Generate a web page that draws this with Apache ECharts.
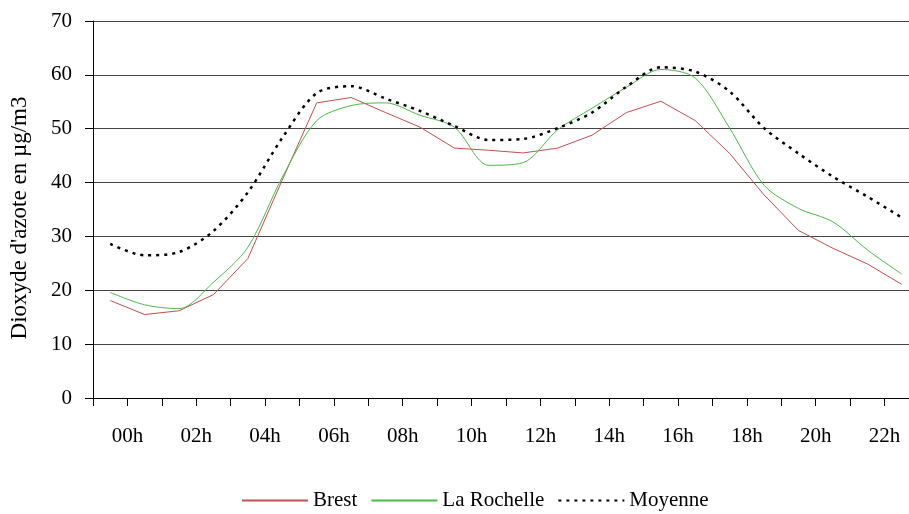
<!DOCTYPE html>
<html>
<head>
<meta charset="utf-8">
<script src="https://cdn.jsdelivr.net/npm/echarts@6/dist/echarts.min.js"></script>
<style>html,body{margin:0;padding:0;background:#fff}#c{width:909px;height:514px}</style>
</head>
<body>
<div id="c"></div>
<script>
var tickLabels = ['00h','02h','04h','06h','08h','10h','12h','14h','16h','18h','20h','22h'];
var hours = [0.5,1.5,2.5,3.5,4.5,5.5,6.5,7.5,8.5,9.5,10.5,11.5,12.5,13.5,14.5,15.5,16.5,17.5,18.5,19.5,20.5,21.5,22.5,23.5];
var brest = [18.1,15.5,16.2,19.2,25.9,40.5,54.8,55.8,53.0,50.3,46.4,46.0,45.5,46.4,48.8,53.0,55.1,51.5,45.4,37.7,31.1,27.8,24.9,21.1];
var laRochelle = [19.6,17.3,16.6,21.5,28.0,41.0,51.5,54.3,54.8,52.5,50.3,43.2,43.7,49.8,53.8,57.7,61.0,59.4,50.1,39.5,35.2,32.7,27.5,23.0];
var moyenne = [28.6,26.5,27.1,31.0,38.2,48.3,56.6,57.9,55.6,53.3,50.5,47.9,48.1,50.1,53.0,57.8,61.4,60.6,56.9,50.1,45.4,41.1,37.4,33.5];

function pairs(vals){ return vals.map(function(v,i){ return [hours[i], v]; }); }
var FONT = "'Liberation Serif','Times New Roman',serif";
var chart = echarts.init(document.getElementById('c'));
chart.setOption({
  animation: false,
  backgroundColor: '#fff',
  textStyle: { fontFamily: FONT, color: '#000' },
  grid: { left: 91, top: 21, right: 0, height: 377 },
  legend: {
    left: 241, top: 490, padding: 0,
    itemWidth: 66, itemHeight: 10, itemGap: 13,
    itemStyle: { opacity: 0 },
    textStyle: { fontFamily: FONT, fontSize: 21, color: '#000' },
    data: ['Brest','La Rochelle','Moyenne']
  },
  xAxis: {
    type: 'value', min: 0, max: 23.71, interval: 1,
    axisLine: { lineStyle: { color: '#000', width: 1 } },
    axisTick: { show: true, length: 8, lineStyle: { color: '#000' } },
    splitLine: { show: false },
    axisLabel: {
      margin: 28, fontFamily: FONT, fontSize: 21, color: '#000',
      showMaxLabel: false,
      formatter: function(v){ return (Math.abs(v % 2 - 1) < 1e-6) ? tickLabels[Math.round((v-1)/2)] : ''; }
    }
  },
  yAxis: {
    type: 'value', min: 0, max: 70, interval: 10,
    name: "Dioxyde d'azote en µg/m3",
    nameLocation: 'middle', nameGap: 62, nameRotate: 90,
    nameTextStyle: { fontFamily: FONT, fontSize: 23, color: '#000', padding: [0, 17, 0, 0] },
    axisLine: { show: true, lineStyle: { color: '#000', width: 1 } },
    axisTick: { show: true, length: 8, lineStyle: { color: '#000' } },
    splitLine: { show: true, lineStyle: { color: '#444', width: 1 } },
    axisLabel: { margin: 21, fontFamily: FONT, fontSize: 21, color: '#000' }
  },
  series: [
    { name: 'Brest', type: 'line', data: pairs(brest), symbol: 'none',
      lineStyle: { color: '#C0504D', width: 1 }, itemStyle: { color: '#C0504D' } },
    { name: 'La Rochelle', type: 'line', data: pairs(laRochelle), symbol: 'none', smooth: 0.3,
      lineStyle: { color: '#4DB849', width: 1 }, itemStyle: { color: '#4DB849' } },
    { name: 'Moyenne', type: 'line', data: pairs(moyenne), symbol: 'none', smooth: 0.3,
      lineStyle: { color: '#000', width: 2.5, type: [3, 5] }, itemStyle: { color: '#000' } }
  ]
});
</script>
</body>
</html>
